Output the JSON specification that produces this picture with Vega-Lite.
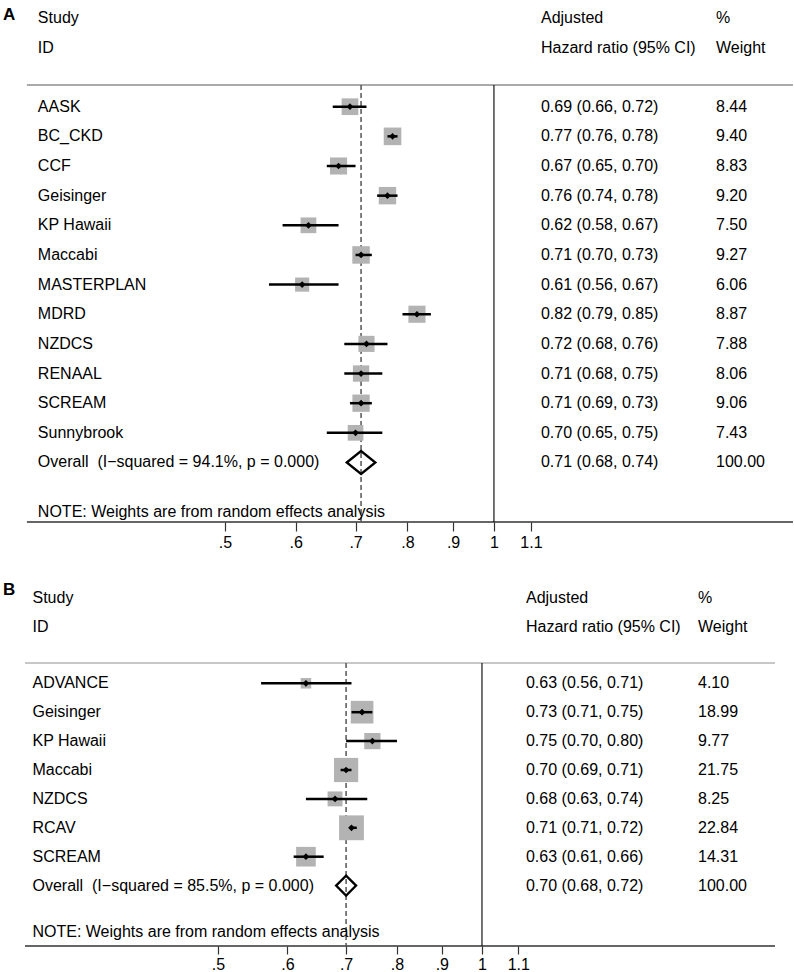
{
  "$schema": "https://vega.github.io/schema/vega-lite/v6.json",
  "background": "white",
  "padding": 0,
  "spacing": 25,
  "config": {
    "view": {"stroke": null},
    "text": {"font": "Liberation Sans", "fontSize": 16, "baseline": "middle", "align": "left", "color": "black"},
    "axisX": {"domain": false, "grid": false, "ticks": true, "tickSize": 9, "tickColor": "#333", "tickWidth": 1.2, "labelFont": "Liberation Sans", "labelFontSize": 16, "labelColor": "black", "labelPadding": 3, "labelFlush": false, "labelOverlap": false}
  },
  "datasets": {
    "a": [
      {"study": "AASK", "hr": 0.69, "lo": 0.66, "hi": 0.72, "weight": 8.44, "ci": "0.69 (0.66, 0.72)", "row": 1, "kind": "study"},
      {"study": "BC_CKD", "hr": 0.77, "lo": 0.76, "hi": 0.78, "weight": 9.40, "ci": "0.77 (0.76, 0.78)", "row": 2, "kind": "study"},
      {"study": "CCF", "hr": 0.67, "lo": 0.65, "hi": 0.70, "weight": 8.83, "ci": "0.67 (0.65, 0.70)", "row": 3, "kind": "study"},
      {"study": "Geisinger", "hr": 0.76, "lo": 0.74, "hi": 0.78, "weight": 9.20, "ci": "0.76 (0.74, 0.78)", "row": 4, "kind": "study"},
      {"study": "KP Hawaii", "hr": 0.62, "lo": 0.58, "hi": 0.67, "weight": 7.50, "ci": "0.62 (0.58, 0.67)", "row": 5, "kind": "study"},
      {"study": "Maccabi", "hr": 0.71, "lo": 0.70, "hi": 0.73, "weight": 9.27, "ci": "0.71 (0.70, 0.73)", "row": 6, "kind": "study"},
      {"study": "MASTERPLAN", "hr": 0.61, "lo": 0.56, "hi": 0.67, "weight": 6.06, "ci": "0.61 (0.56, 0.67)", "row": 7, "kind": "study"},
      {"study": "MDRD", "hr": 0.82, "lo": 0.79, "hi": 0.85, "weight": 8.87, "ci": "0.82 (0.79, 0.85)", "row": 8, "kind": "study"},
      {"study": "NZDCS", "hr": 0.72, "lo": 0.68, "hi": 0.76, "weight": 7.88, "ci": "0.72 (0.68, 0.76)", "row": 9, "kind": "study"},
      {"study": "RENAAL", "hr": 0.71, "lo": 0.68, "hi": 0.75, "weight": 8.06, "ci": "0.71 (0.68, 0.75)", "row": 10, "kind": "study"},
      {"study": "SCREAM", "hr": 0.71, "lo": 0.69, "hi": 0.73, "weight": 9.06, "ci": "0.71 (0.69, 0.73)", "row": 11, "kind": "study"},
      {"study": "Sunnybrook", "hr": 0.70, "lo": 0.65, "hi": 0.75, "weight": 7.43, "ci": "0.70 (0.65, 0.75)", "row": 12, "kind": "study"},
      {"study": "Overall\u00a0 (I\u2212squared = 94.1%, p = 0.000)", "hr": 0.71, "lo": 0.68, "hi": 0.74, "weight": 100.00, "ci": "0.71 (0.68, 0.74)", "row": 13, "kind": "overall"}
    ],
    "b": [
      {"study": "ADVANCE", "hr": 0.63, "lo": 0.56, "hi": 0.71, "weight": 4.10, "ci": "0.63 (0.56, 0.71)", "row": 1, "kind": "study"},
      {"study": "Geisinger", "hr": 0.73, "lo": 0.71, "hi": 0.75, "weight": 18.99, "ci": "0.73 (0.71, 0.75)", "row": 2, "kind": "study"},
      {"study": "KP Hawaii", "hr": 0.75, "lo": 0.70, "hi": 0.80, "weight": 9.77, "ci": "0.75 (0.70, 0.80)", "row": 3, "kind": "study"},
      {"study": "Maccabi", "hr": 0.70, "lo": 0.69, "hi": 0.71, "weight": 21.75, "ci": "0.70 (0.69, 0.71)", "row": 4, "kind": "study"},
      {"study": "NZDCS", "hr": 0.68, "lo": 0.63, "hi": 0.74, "weight": 8.25, "ci": "0.68 (0.63, 0.74)", "row": 5, "kind": "study"},
      {"study": "RCAV", "hr": 0.71, "lo": 0.71, "hi": 0.72, "weight": 22.84, "ci": "0.71 (0.71, 0.72)", "row": 6, "kind": "study"},
      {"study": "SCREAM", "hr": 0.63, "lo": 0.61, "hi": 0.66, "weight": 14.31, "ci": "0.63 (0.61, 0.66)", "row": 7, "kind": "study"},
      {"study": "Overall\u00a0 (I\u2212squared = 85.5%, p = 0.000)", "hr": 0.70, "lo": 0.68, "hi": 0.72, "weight": 100.00, "ci": "0.70 (0.68, 0.72)", "row": 8, "kind": "overall"}
    ]
  },
  "resolve": {"scale": {"x": "independent", "y": "independent", "size": "independent"}},
  "vconcat": [
    {
      "width": 794,
      "height": 522,
      "layer": [
        {
          "data": {"values": [{}]},
          "mark": {"type": "rule", "color": "#333", "strokeWidth": 1.3},
          "encoding": {
            "x": {"datum": 0.3001, "type": "quantitative", "scale": {"type": "log", "domain": [0.28, 2.1668], "nice": false},
                  "axis": {"values": [0.5, 0.6, 0.7, 0.8, 0.9, 1, 1.1], "labelExpr": "datum.value < 1 ? '.' + format(datum.value * 10, 'd') : format(datum.value, '~g')", "title": null}},
            "x2": {"datum": 2.161},
            "y": {"datum": 15.007, "type": "quantitative", "scale": {"domain": [-2.599, 15.007], "reverse": true, "nice": false, "zero": false}, "axis": null}
          }
        },
        {
          "data": {"values": [{}]},
          "mark": {"type": "rule", "color": "#aaaaaa", "strokeWidth": 2},
          "encoding": {"x": {"datum": 0.3001}, "x2": {"datum": 2.161}, "y": {"datum": 0.268, "axis": null}}
        },
        {
          "data": {"values": [{}]},
          "mark": {"type": "rule", "color": "black", "strokeWidth": 1.1},
          "encoding": {"x": {"datum": 1}, "y": {"datum": 0.268, "axis": null}, "y2": {"datum": 15.007}}
        },
        {
          "data": {"values": [{}]},
          "mark": {"type": "rule", "color": "#555", "strokeWidth": 1.5, "strokeDash": [5, 3]},
          "encoding": {"x": {"datum": 0.71}, "y": {"datum": 0.268, "axis": null}, "y2": {"datum": 15.007}}
        },
        {
          "data": {"name": "a"},
          "transform": [{"filter": "datum.kind == 'study'"}],
          "mark": {"type": "point", "shape": "square", "filled": true, "color": "#b3b3b3", "opacity": 1},
          "encoding": {
            "x": {"field": "hr", "type": "quantitative", "title": null},
            "y": {"field": "row", "type": "quantitative", "axis": null},
            "size": {"field": "weight", "type": "quantitative", "scale": {"type": "linear", "zero": true, "domain": [0, 10], "range": [0, 330]}, "legend": null}
          }
        },
        {
          "data": {"name": "a"},
          "transform": [{"filter": "datum.kind == 'study'"}],
          "mark": {"type": "rule", "color": "black", "strokeWidth": 2.5},
          "encoding": {
            "x": {"field": "lo", "type": "quantitative", "title": null},
            "x2": {"field": "hi"},
            "y": {"field": "row", "type": "quantitative", "axis": null}
          }
        },
        {
          "data": {"name": "a"},
          "transform": [{"filter": "datum.kind == 'study'"}],
          "mark": {"type": "point", "shape": "diamond", "filled": true, "color": "black", "opacity": 1, "size": 45},
          "encoding": {
            "x": {"field": "hr", "type": "quantitative", "title": null},
            "y": {"field": "row", "type": "quantitative", "axis": null}
          }
        },
        {
          "data": {"name": "a"},
          "transform": [{"filter": "datum.kind == 'overall'"}],
          "mark": {"type": "point", "shape": "M-1,0L0,-0.8L1,0L0,0.8Z", "filled": false, "stroke": "black", "strokeWidth": 2.3, "opacity": 1, "size": 818},
          "encoding": {
            "x": {"field": "hr", "type": "quantitative", "title": null},
            "y": {"field": "row", "type": "quantitative", "axis": null}
          }
        },
        {
          "data": {"name": "a"},
          "mark": {"type": "text"},
          "encoding": {
            "x": {"datum": 0.3087},
            "y": {"field": "row", "type": "quantitative", "axis": null},
            "text": {"field": "study"}
          }
        },
        {
          "data": {"name": "a"},
          "mark": {"type": "text"},
          "encoding": {
            "x": {"datum": 1.1288},
            "y": {"field": "row", "type": "quantitative", "axis": null},
            "text": {"field": "ci"}
          }
        },
        {
          "data": {"name": "a"},
          "mark": {"type": "text"},
          "encoding": {
            "x": {"datum": 1.7722},
            "y": {"field": "row", "type": "quantitative", "axis": null},
            "text": {"field": "weight", "format": ".2f"}
          }
        },
        {"data": {"values": [{}]}, "mark": {"type": "text", "text": "A", "fontWeight": "bold", "fontSize": 17},
         "encoding": {"x": {"datum": 0.2821}, "y": {"datum": -2.09, "axis": null}}},
        {"data": {"values": [{}]}, "mark": {"type": "text", "text": "Study"},
         "encoding": {"x": {"datum": 0.3087}, "y": {"datum": -1.98, "axis": null}}},
        {"data": {"values": [{}]}, "mark": {"type": "text", "text": "ID"},
         "encoding": {"x": {"datum": 0.3087}, "y": {"datum": -0.97, "axis": null}}},
        {"data": {"values": [{}]}, "mark": {"type": "text", "text": "Adjusted"},
         "encoding": {"x": {"datum": 1.1288}, "y": {"datum": -1.98, "axis": null}}},
        {"data": {"values": [{}]}, "mark": {"type": "text", "text": "Hazard ratio (95% CI)"},
         "encoding": {"x": {"datum": 1.1288}, "y": {"datum": -0.97, "axis": null}}},
        {"data": {"values": [{}]}, "mark": {"type": "text", "text": "%"},
         "encoding": {"x": {"datum": 1.7722}, "y": {"datum": -1.98, "axis": null}}},
        {"data": {"values": [{}]}, "mark": {"type": "text", "text": "Weight"},
         "encoding": {"x": {"datum": 1.7722}, "y": {"datum": -0.97, "axis": null}}},
        {"data": {"values": [{}]}, "mark": {"type": "text", "text": "NOTE: Weights are from random effects analysis"},
         "encoding": {"x": {"datum": 0.3087}, "y": {"datum": 14.67, "axis": null}}}
      ]
    },
    {
      "width": 794,
      "height": 371,
      "layer": [
        {
          "data": {"values": [{}]},
          "mark": {"type": "rule", "color": "#333", "strokeWidth": 1.3},
          "encoding": {
            "x": {"datum": 0.30134, "type": "quantitative", "scale": {"type": "log", "domain": [0.28223, 2.2681], "nice": false},
                  "axis": {"values": [0.5, 0.6, 0.7, 0.8, 0.9, 1, 1.1], "labelExpr": "datum.value < 1 ? '.' + format(datum.value * 10, 'd') : format(datum.value, '~g')", "title": null, "tickSize": 8, "labelPadding": 2}},
            "x2": {"datum": 2.1577},
            "y": {"datum": 10.09, "type": "quantitative", "scale": {"domain": [-2.747, 10.09], "reverse": true, "nice": false, "zero": false}, "axis": null}
          }
        },
        {
          "data": {"values": [{}]},
          "mark": {"type": "rule", "color": "#b5b5b5", "strokeWidth": 1.5},
          "encoding": {"x": {"datum": 0.30134}, "x2": {"datum": 2.1577}, "y": {"datum": 0.298, "axis": null}}
        },
        {
          "data": {"values": [{}]},
          "mark": {"type": "rule", "color": "black", "strokeWidth": 1.1},
          "encoding": {"x": {"datum": 1}, "y": {"datum": 0.298, "axis": null}, "y2": {"datum": 10.09}}
        },
        {
          "data": {"values": [{}]},
          "mark": {"type": "rule", "color": "#555", "strokeWidth": 1.5, "strokeDash": [5, 3]},
          "encoding": {"x": {"datum": 0.70}, "y": {"datum": 0.298, "axis": null}, "y2": {"datum": 10.09}}
        },
        {
          "data": {"name": "b"},
          "transform": [{"filter": "datum.kind == 'study'"}],
          "mark": {"type": "point", "shape": "square", "filled": true, "color": "#b3b3b3", "opacity": 1},
          "encoding": {
            "x": {"field": "hr", "type": "quantitative", "title": null},
            "y": {"field": "row", "type": "quantitative", "axis": null},
            "size": {"field": "weight", "type": "quantitative", "scale": {"type": "linear", "zero": true, "domain": [0, 25], "range": [0, 675]}, "legend": null}
          }
        },
        {
          "data": {"name": "b"},
          "transform": [{"filter": "datum.kind == 'study'"}],
          "mark": {"type": "rule", "color": "black", "strokeWidth": 2.5},
          "encoding": {
            "x": {"field": "lo", "type": "quantitative", "title": null},
            "x2": {"field": "hi"},
            "y": {"field": "row", "type": "quantitative", "axis": null}
          }
        },
        {
          "data": {"name": "b"},
          "transform": [{"filter": "datum.kind == 'study'"}],
          "mark": {"type": "point", "shape": "diamond", "filled": true, "color": "black", "opacity": 1, "size": 45},
          "encoding": {
            "x": {"field": "hr", "type": "quantitative", "title": null},
            "y": {"field": "row", "type": "quantitative", "axis": null}
          }
        },
        {
          "data": {"name": "b"},
          "transform": [{"filter": "datum.kind == 'overall'"}],
          "mark": {"type": "point", "shape": "M-1,0L0,-1L1,0L0,1Z", "filled": false, "stroke": "black", "strokeWidth": 2.3, "opacity": 1, "size": 400},
          "encoding": {
            "x": {"field": "hr", "type": "quantitative", "title": null},
            "y": {"field": "row", "type": "quantitative", "axis": null}
          }
        },
        {
          "data": {"name": "b"},
          "mark": {"type": "text"},
          "encoding": {
            "x": {"datum": 0.30733},
            "y": {"field": "row", "type": "quantitative", "axis": null},
            "text": {"field": "study"}
          }
        },
        {
          "data": {"name": "b"},
          "mark": {"type": "text"},
          "encoding": {
            "x": {"datum": 1.1224},
            "y": {"field": "row", "type": "quantitative", "axis": null},
            "text": {"field": "ci"}
          }
        },
        {
          "data": {"name": "b"},
          "mark": {"type": "text"},
          "encoding": {
            "x": {"datum": 1.7630},
            "y": {"field": "row", "type": "quantitative", "axis": null},
            "text": {"field": "weight", "format": ".2f"}
          }
        },
        {"data": {"values": [{}]}, "mark": {"type": "text", "text": "B", "fontWeight": "bold", "fontSize": 17},
         "encoding": {"x": {"datum": 0.28446}, "y": {"datum": -2.23, "axis": null}}},
        {"data": {"values": [{}]}, "mark": {"type": "text", "text": "Study"},
         "encoding": {"x": {"datum": 0.30733}, "y": {"datum": -1.95, "axis": null}}},
        {"data": {"values": [{}]}, "mark": {"type": "text", "text": "ID"},
         "encoding": {"x": {"datum": 0.30733}, "y": {"datum": -0.95, "axis": null}}},
        {"data": {"values": [{}]}, "mark": {"type": "text", "text": "Adjusted"},
         "encoding": {"x": {"datum": 1.1224}, "y": {"datum": -1.95, "axis": null}}},
        {"data": {"values": [{}]}, "mark": {"type": "text", "text": "Hazard ratio (95% CI)"},
         "encoding": {"x": {"datum": 1.1224}, "y": {"datum": -0.95, "axis": null}}},
        {"data": {"values": [{}]}, "mark": {"type": "text", "text": "%"},
         "encoding": {"x": {"datum": 1.7630}, "y": {"datum": -1.95, "axis": null}}},
        {"data": {"values": [{}]}, "mark": {"type": "text", "text": "Weight"},
         "encoding": {"x": {"datum": 1.7630}, "y": {"datum": -0.95, "axis": null}}},
        {"data": {"values": [{}]}, "mark": {"type": "text", "text": "NOTE: Weights are from random effects analysis"},
         "encoding": {"x": {"datum": 0.30733}, "y": {"datum": 9.6, "axis": null}}}
      ]
    }
  ]
}
